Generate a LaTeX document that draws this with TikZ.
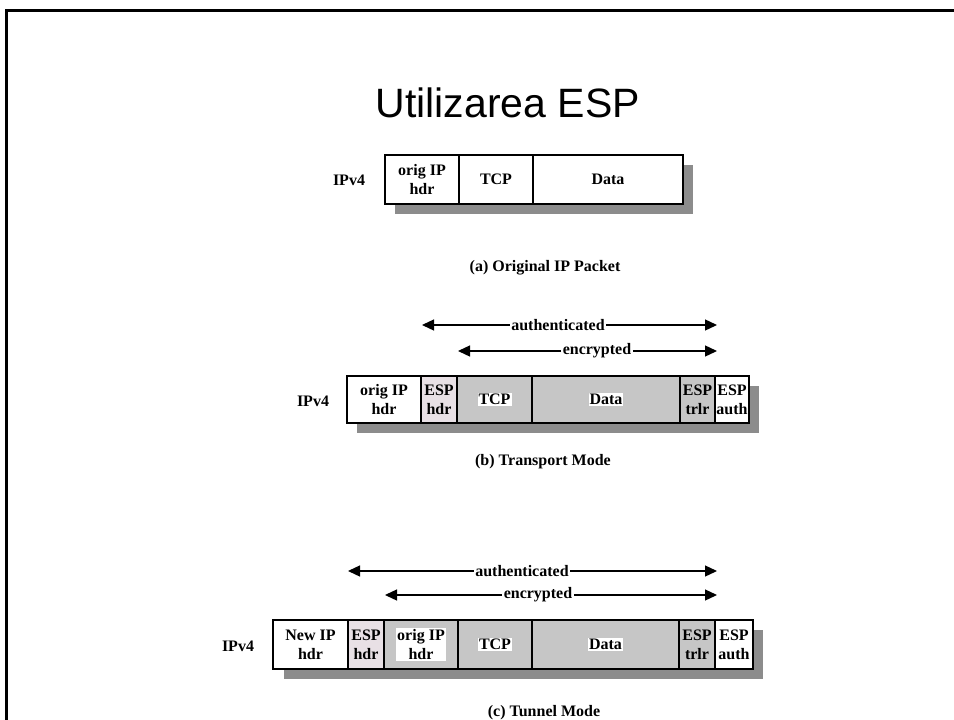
\documentclass[tikz,border=0pt]{standalone}
\usepackage{fontspec}
\setmainfont{Liberation Serif}
\newfontfamily\titlefont{Liberation Sans}
\usetikzlibrary{arrows.meta}
\definecolor{cellgray}{HTML}{C6C6C6}
\definecolor{hdrpink}{HTML}{E8E0E5}
\definecolor{shadowgray}{HTML}{8C8C8C}
\tikzset{
  cellbox/.style={draw=black, line width=2.6pt, inner sep=0pt, align=center,
    font=\bfseries\fontsize{16}{19}\selectfont},
  whitelab/.style={fill=white, inner sep=1pt, align=center,
    font=\bfseries\fontsize{16}{19}\selectfont},
  plainlab/.style={inner sep=0pt, align=center,
    font=\bfseries\fontsize{16}{19}\selectfont},
  caption/.style={font=\bfseries\fontsize{16}{18}\selectfont},
  rangelab/.style={fill=white, inner sep=1.5pt,
    font=\bfseries\fontsize{16}{18}\selectfont},
  rangearrow/.style={line width=1.3pt, -{Triangle[length=12pt,width=11pt]}},
  shadowbox/.style={fill=shadowgray, draw=none}
}
\begin{document}
\begin{tikzpicture}[x=1pt,y=-1pt]
\useasboundingbox (0,0) rectangle (954,720);
\fill[white] (0,0) rectangle (954,720);
% slide frame
\draw[line width=3pt] (6,730) -- (6,10) -- (970,10);
% title
\node[anchor=base east, inner sep=0pt, font=\titlefont\fontsize{41}{48}\selectfont] (title) at (640,117) {Utilizarea ESP};

% ---------- (a) Original IP packet ----------
\fill[shadowbox] (395,165) rectangle (693,214);
\node[cellbox, fill=white, minimum width=74pt, minimum height=49pt] (a1) at (422,179.5) {orig IP\\hdr};
\node[cellbox, fill=white, minimum width=74pt, minimum height=49pt] (a2) at (496,179.5) {TCP};
\node[cellbox, fill=white, minimum width=150pt, minimum height=49pt] (a3) at (608,179.5) {Data};
\node[plainlab] (ipa) at (349,180) {IPv4};
\node[caption] (capa) at (545,268) {(a) Original IP Packet};

% ---------- (b) Transport mode ----------
\coordinate (bAL) at (422,325);
\coordinate (bAR) at (717,325);
\coordinate (bEL) at (458,351);
\coordinate (bER) at (717,351);
\node[rangelab] (bA) at (558,325) {authenticated};
\node[rangelab] (bE) at (597,351) {encrypted};
\draw[rangearrow] (bA) -- (bAL);
\draw[rangearrow] (bA) -- (bAR);
\draw[rangearrow] (bE) -- (bEL);
\draw[rangearrow] (bE) -- (bER);

\fill[shadowbox] (357,386) rectangle (759,433);
\node[cellbox, fill=white, minimum width=74pt, minimum height=47pt] (b1) at (384,399.5) {orig IP\\hdr};
\node[cellbox, fill=hdrpink, minimum width=36pt, minimum height=47pt] (b2) at (439,399.5) {ESP\\hdr};
\node[cellbox, fill=cellgray, minimum width=75pt, minimum height=47pt] (b3) at (494.5,399.5) {};
\node[cellbox, fill=cellgray, minimum width=148pt, minimum height=47pt] (b4) at (606,399.5) {};
\node[cellbox, fill=cellgray, minimum width=35pt, minimum height=47pt] (b5) at (697.5,399.5) {ESP\\trlr};
\node[cellbox, fill=white, minimum width=34pt, minimum height=47pt] (b6) at (732,399.5) {ESP\\auth};
\node[whitelab] (b3t) at (b3) {TCP};
\node[whitelab] (b4t) at (b4) {Data};
\node[plainlab] (ipb) at (313,401) {IPv4};
\node[caption] (capb) at (543,462) {(b) Transport Mode};

% ---------- (c) Tunnel mode ----------
\coordinate (cAL) at (348,571);
\coordinate (cAR) at (717,571);
\coordinate (cEL) at (385,595);
\coordinate (cER) at (717,595);
\node[rangelab] (cA) at (522,571) {authenticated};
\node[rangelab] (cE) at (538,595) {encrypted};
\draw[rangearrow] (cA) -- (cAL);
\draw[rangearrow] (cA) -- (cAR);
\draw[rangearrow] (cE) -- (cEL);
\draw[rangearrow] (cE) -- (cER);

\fill[shadowbox] (284,630) rectangle (763,679);
\node[cellbox, fill=white, minimum width=75pt, minimum height=49pt] (c1) at (310.5,644.5) {New IP\\hdr};
\node[cellbox, fill=hdrpink, minimum width=36pt, minimum height=49pt] (c2) at (366,644.5) {ESP\\hdr};
\node[cellbox, fill=cellgray, minimum width=74pt, minimum height=49pt] (c3) at (421,644.5) {};
\node[cellbox, fill=cellgray, minimum width=74pt, minimum height=49pt] (c4) at (495,644.5) {};
\node[cellbox, fill=cellgray, minimum width=147pt, minimum height=49pt] (c5) at (605.5,644.5) {};
\node[cellbox, fill=cellgray, minimum width=36pt, minimum height=49pt] (c6) at (697,644.5) {ESP\\trlr};
\node[cellbox, fill=white, minimum width=38pt, minimum height=49pt] (c7) at (734,644.5) {ESP\\auth};
\node[whitelab] (c3t) at (c3) {orig IP\\hdr};
\node[whitelab] (c4t) at (c4) {TCP};
\node[whitelab] (c5t) at (c5) {Data};
\node[plainlab] (ipc) at (238,646) {IPv4};
\node[caption] (capc) at (544,713) {(c) Tunnel Mode};
\end{tikzpicture}
\end{document}
